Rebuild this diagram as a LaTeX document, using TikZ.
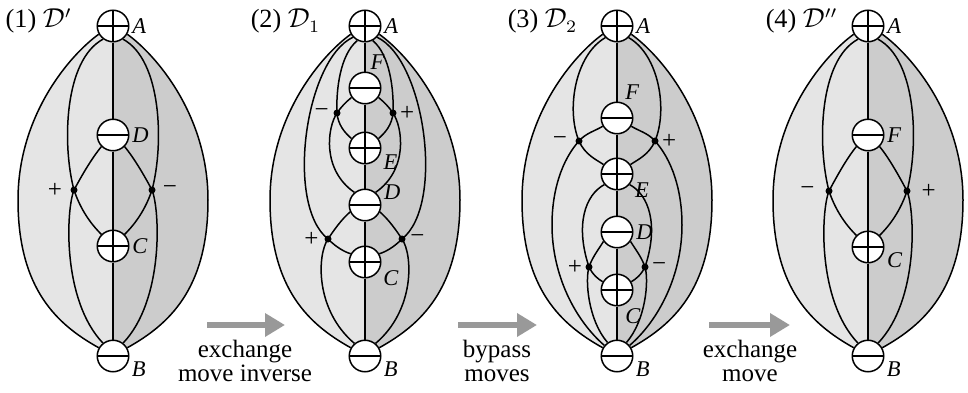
\documentclass[tikz,border=0pt]{standalone}
\usepackage{fontspec}
\setmainfont{Liberation Serif}
\usetikzlibrary{positioning,backgrounds,arrows.meta}
\tikzset{
  vert/.style={circle, draw, fill=white, line width=0.6pt, minimum size=12.6pt, inner sep=0pt},
  pvert/.style={vert, path picture={\draw[line width=0.6pt] (path picture bounding box.west) -- (path picture bounding box.east) (path picture bounding box.north) -- (path picture bounding box.south);}},
  mvert/.style={vert, path picture={\draw[line width=0.6pt] (path picture bounding box.west) -- (path picture bounding box.east);}},
  lbl/.style={font=\fontsize{9}{10}\selectfont\itshape, inner sep=0.8pt},
  sgn/.style={font=\fontsize{10}{11}\selectfont, inner sep=0.5pt},
  ttl/.style={font=\fontsize{10.5}{12}\selectfont, inner sep=0pt, anchor=base west},
  mvtxt/.style={font=\fontsize{10}{9.6}\selectfont, align=center, anchor=north, inner sep=0pt},
  mv/.style={line width=2.4pt, draw=gray!80, -{Triangle[length=8pt,width=9pt]}},
}
\begin{document}
\begin{tikzpicture}[x=0.4pt, y=-0.4pt, line width=0.6pt]
\useasboundingbox (0,0) rectangle (968,393);

\foreach \i/\cx in {1/113,2/365,3/617,4/868}{
  \begin{scope}[shift={(\cx,0)}]
    \node[pvert, label={[lbl]0:A}] (A\i) at (0,26) {};
    \node[mvert, label={[lbl]-12:B}] (B\i) at (0,356) {};
    \draw (A\i.-150) .. controls (-43,55) and (-95,115) .. (-95,200) .. controls (-95,290) and (-55,325) .. (B\i.150);
    \draw (A\i.-30) .. controls (43,55) and (95,115) .. (95,200) .. controls (95,290) and (55,325) .. (B\i.30);
    \begin{scope}[on background layer]
      \fill[gray!20] (A\i.center) -- (A\i.-150) .. controls (-43,55) and (-95,115) .. (-95,200) .. controls (-95,290) and (-55,325) .. (B\i.150) -- (B\i.center) -- cycle;
      \fill[gray!40] (A\i.center) -- (A\i.-30) .. controls (43,55) and (95,115) .. (95,200) .. controls (95,290) and (55,325) .. (B\i.30) -- (B\i.center) -- cycle;
    \end{scope}
  \end{scope}
}

\begin{scope}[shift={(113,0)}]
\node[mvert, label={[lbl]0:D}] (D1) at (0,135) {};
\node[pvert, label={[lbl]0:C}] (C1) at (0,246) {};
\coordinate (L1) at (-39,190);
\coordinate (R1) at (39,190);
\draw (A1) -- (D1) -- (C1) -- (B1);
\draw (A1.-127) .. controls (-49,60) and (-51,145) .. (L1) .. controls (-31,214) and (-18,228) .. (C1.135);
\draw (A1.-53) .. controls (49,60) and (51,145) .. (R1) .. controls (31,214) and (18,228) .. (C1.45);
\draw (D1.-135) .. controls (-21,158) and (-31,175) .. (L1) .. controls (-47,210) and (-51,300) .. (B1.128);
\draw (D1.-45) .. controls (21,158) and (31,175) .. (R1) .. controls (47,210) and (51,300) .. (B1.52);
\fill (L1) circle (1.4pt) (R1) circle (1.4pt);
\node[sgn, left=4pt of L1] (sL1) {+};
\node[sgn, right=3.5pt of R1] (sR1) {−};
\end{scope}

\begin{scope}[shift={(365,0)}]
\node[mvert, label={[lbl]80:F}] (F2) at (0,88) {};
\node[pvert, label={[lbl]-15:E}] (E2) at (0,148) {};
\node[mvert, label={[lbl]8:D}] (D2) at (0,205) {};
\node[pvert, label={[lbl]-20:C}] (C2) at (0,262) {};
\coordinate (UL2) at (-28,113);
\coordinate (UR2) at (28,113);
\coordinate (LL2) at (-37,239);
\coordinate (LR2) at (37,239);
\draw (A2) -- (F2) -- (E2) -- (D2) -- (C2) -- (B2);
\draw (A2.-137) .. controls (-60,60) and (-80,205) .. (LL2) .. controls (-28,248) and (-20,252) .. (C2.150);
\draw (A2.-43) .. controls (60,60) and (80,205) .. (LR2) .. controls (28,248) and (20,252) .. (C2.30);
\draw (D2.-155) .. controls (-24,220) and (-31,230) .. (LL2) .. controls (-48,255) and (-50,310) .. (B2.130);
\draw (D2.-25) .. controls (24,220) and (31,230) .. (LR2) .. controls (48,255) and (50,310) .. (B2.50);
\draw (A2.-118) .. controls (-25,55) and (-29,90) .. (UL2) .. controls (-27,125) and (-20,133) .. (E2.145);
\draw (A2.-62) .. controls (25,55) and (29,90) .. (UR2) .. controls (27,125) and (20,133) .. (E2.35);
\draw (F2.-145) .. controls (-19,102) and (-24,107) .. (UL2) .. controls (-38,128) and (-43,170) .. (D2.130);
\draw (F2.-35) .. controls (19,102) and (24,107) .. (UR2) .. controls (38,128) and (43,170) .. (D2.50);
\fill (UL2) circle (1.4pt) (UR2) circle (1.4pt) (LL2) circle (1.4pt) (LR2) circle (1.4pt);
\node[sgn, left=2.5pt of UL2] (sUL2) {−};
\node[sgn, right=2pt of UR2] (sUR2) {+};
\node[sgn, left=3pt of LL2] (sLL2) {+};
\node[sgn, right=2.5pt of LR2] (sLR2) {−};
\end{scope}

\begin{scope}[shift={(617,0)}]
\node[mvert, label={[lbl]70:F}] (F3) at (0,118) {};
\node[pvert, label={[lbl]-22:E}] (E3) at (0,174) {};
\node[mvert, label={[lbl]0:D}] (D3) at (0,232) {};
\node[pvert, label={[lbl]-70:C}] (C3) at (0,290) {};
\coordinate (UL3) at (-38,141);
\coordinate (UR3) at (38,141);
\coordinate (LL3) at (-28,267);
\coordinate (LR3) at (28,267);
\draw (A3) -- (F3) -- (E3) -- (D3) -- (C3) -- (B3);
\draw (A3.-135) .. controls (-42,55) and (-51,110) .. (UL3) .. controls (-32,155) and (-20,160) .. (E3.145);
\draw (A3.-45) .. controls (42,55) and (51,110) .. (UR3) .. controls (32,155) and (20,160) .. (E3.35);
\draw (F3.-150) .. controls (-22,131) and (-31,133) .. (UL3) .. controls (-55,160) and (-65,190) .. (-65,225) .. controls (-65,275) and (-42,320) .. (B3.140);
\draw (F3.-30) .. controls (22,131) and (31,133) .. (UR3) .. controls (55,160) and (65,190) .. (65,225) .. controls (65,275) and (42,320) .. (B3.40);
\draw (E3.-140) .. controls (-32,195) and (-42,225) .. (LL3) .. controls (-24,275) and (-19,279) .. (C3.150);
\draw (E3.-40) .. controls (32,195) and (42,225) .. (LR3) .. controls (24,275) and (19,279) .. (C3.30);
\draw (D3.-145) .. controls (-19,250) and (-25,258) .. (LL3) .. controls (-32,280) and (-29,320) .. (B3.125);
\draw (D3.-35) .. controls (19,250) and (25,258) .. (LR3) .. controls (32,280) and (29,320) .. (B3.55);
\fill (UL3) circle (1.4pt) (UR3) circle (1.4pt) (LL3) circle (1.4pt) (LR3) circle (1.4pt);
\node[sgn, left=4pt of UL3] (sUL3) {−};
\node[sgn, right=2pt of UR3] (sUR3) {+};
\node[sgn, left=2pt of LL3] (sLL3) {+};
\node[sgn, right=2pt of LR3] (sLR3) {−};
\end{scope}

\begin{scope}[shift={(868,0)}]
\node[mvert, label={[lbl]0:F}] (F4) at (0,135) {};
\node[pvert, label={[lbl]-10:C}] (C4) at (0,247) {};
\coordinate (L4) at (-39,191);
\coordinate (R4) at (39,191);
\draw (A4) -- (F4) -- (C4) -- (B4);
\draw (A4.-127) .. controls (-49,60) and (-51,145) .. (L4) .. controls (-31,215) and (-18,229) .. (C4.135);
\draw (A4.-53) .. controls (49,60) and (51,145) .. (R4) .. controls (31,215) and (18,229) .. (C4.45);
\draw (F4.-135) .. controls (-21,158) and (-31,176) .. (L4) .. controls (-47,211) and (-51,300) .. (B4.128);
\draw (F4.-45) .. controls (21,158) and (31,176) .. (R4) .. controls (47,211) and (51,300) .. (B4.52);
\fill (L4) circle (1.4pt) (R4) circle (1.4pt);
\node[sgn, left=5pt of L4] (sL4) {−};
\node[sgn, right=5pt of R4] (sR4) {+};
\end{scope}

\node[ttl] (h1) at (5,28) {(1) $\mathcal{D}'$};
\node[ttl] (h2) at (250,28) {(2) $\mathcal{D}_1$};
\node[ttl] (h3) at (507,28) {(3) $\mathcal{D}_2$};
\node[ttl] (h4) at (765,28) {(4) $\mathcal{D}''$};

\coordinate (a1s) at (207,325);
\coordinate (a1e) at (285,325);
\coordinate (a2s) at (458,325);
\coordinate (a2e) at (537,325);
\coordinate (a3s) at (709,325);
\coordinate (a3e) at (790,325);
\draw[mv] (a1s) -- (a1e);
\draw[mv] (a2s) -- (a2e);
\draw[mv] (a3s) -- (a3e);
\node[mvtxt] (m1) at (245,339) {exchange\\move inverse};
\node[mvtxt] (m2) at (497,339) {bypass\\moves};
\node[mvtxt] (m3) at (750,339) {exchange\\move};
\end{tikzpicture}
\end{document}
